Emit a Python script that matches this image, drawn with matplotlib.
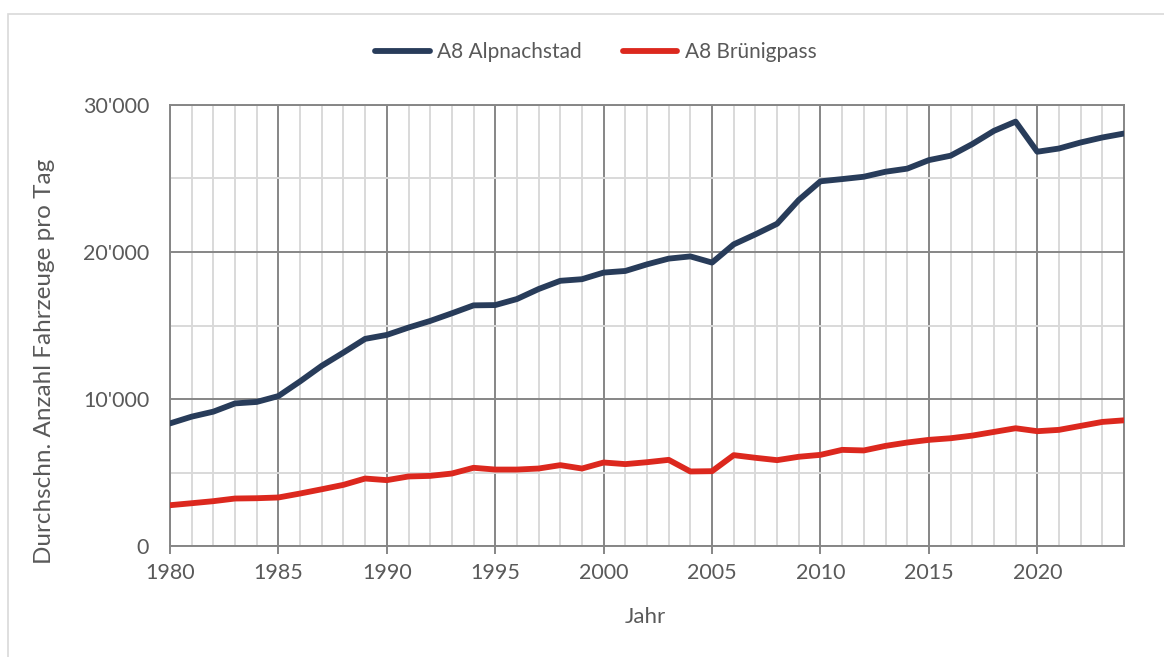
import numpy as np
import matplotlib
matplotlib.use("Agg")
import matplotlib.pyplot as plt
from matplotlib.ticker import MultipleLocator, FuncFormatter
from matplotlib.patches import Rectangle

# Durchschnittlicher Tagesverkehr an zwei Zählstellen der A8
years = list(range(1980, 2025))
alpnachstad = [
    8340, 8800, 9140, 9700, 9800, 10200, 11200, 12260, 13160, 14090,
    14360, 14860, 15310, 15830, 16370, 16390, 16800, 17480, 18040, 18150,
    18600, 18710, 19160, 19550, 19700, 19280, 20520, 21200, 21920, 23540,
    24810, 24960, 25120, 25460, 25670, 26250, 26550, 27340, 28240, 28870,
    26820, 27040, 27450, 27790, 28060,
]
bruenigpass = [
    2775, 2910, 3050, 3230, 3250, 3300, 3570, 3860, 4160, 4590,
    4480, 4730, 4770, 4930, 5320, 5200, 5200, 5270, 5500, 5270,
    5680, 5570, 5700, 5860, 5070, 5090, 6180, 6000, 5840, 6070,
    6200, 6540, 6500, 6810, 7040, 7220, 7330, 7510, 7760, 8010,
    7810, 7900, 8170, 8440, 8550,
]
series_names = ["A8 Alpnachstad", "A8 Brünigpass"]
series_colors = ["#283c5a", "#dc281e"]

plt.rcParams["font.family"] = ["Lato", "DejaVu Sans"]
text_col = "#595959"
major_col = "#868686"
minor_col = "#d9d9d9"

W, H = 1164, 657
fig = plt.figure(figsize=(W / 100, H / 100), dpi=100)
ax = fig.add_axes([170 / W, 1 - 546 / H, (1124 - 170) / W, (546 - 105) / H])

# light frame around the whole chart
fig.patches.append(Rectangle((8 / W, -0.01), 1.0, 1 - 14 / H + 0.01,
                             transform=fig.transFigure, fill=False,
                             edgecolor="#d9d9d9", linewidth=1.2))

for vals, name, col in zip([alpnachstad, bruenigpass], series_names, series_colors):
    ax.plot(years, vals, color=col, linewidth=4.2, label=name,
            solid_joinstyle="round", solid_capstyle="round", zorder=3)

ax.set_xlim(1980, 2024)
ax.set_ylim(0, 30000)
ax.xaxis.set_major_locator(MultipleLocator(5))
ax.xaxis.set_minor_locator(MultipleLocator(1))
ax.yaxis.set_major_locator(MultipleLocator(10000))
ax.yaxis.set_minor_locator(MultipleLocator(5000))
ax.yaxis.set_major_formatter(FuncFormatter(lambda v, p: f"{int(v):,}".replace(",", "'")))

ax.grid(which="major", color=major_col, linewidth=1.4, zorder=1)
ax.grid(which="minor", color=minor_col, linewidth=1.4, zorder=0)
ax.set_axisbelow(True)
for s in ax.spines.values():
    s.set_color(major_col)
    s.set_linewidth(1.4)

ax.tick_params(axis="x", which="major", length=6, width=1.4, color=major_col,
               labelsize=15.5, labelcolor=text_col, pad=6)
ax.tick_params(axis="x", which="minor", length=0)
ax.tick_params(axis="y", which="both", length=0, labelsize=15.5,
               labelcolor=text_col, pad=15)

ax.set_xlabel("Jahr", fontsize=16, color=text_col)
ax.xaxis.set_label_coords((645 - 170) / (1124 - 170), -(617 - 546) / 441)
ax.xaxis.label.set_va("center")
ax.set_ylabel("Durchschn. Anzahl Fahrzeuge pro Tag", fontsize=17.5, color=text_col)
ax.yaxis.set_label_coords(-(170 - 45) / (1124 - 170), (546 - 361) / 441)
ax.yaxis.label.set_va("center")

leg = fig.legend(loc="center", bbox_to_anchor=(0.512, 1 - 52 / H), ncol=2,
                 frameon=False, fontsize=15, handlelength=2.6,
                 columnspacing=2.0, handletextpad=0.35)
for t in leg.get_texts():
    t.set_color(text_col)

fig.savefig("out.png", dpi=100)
